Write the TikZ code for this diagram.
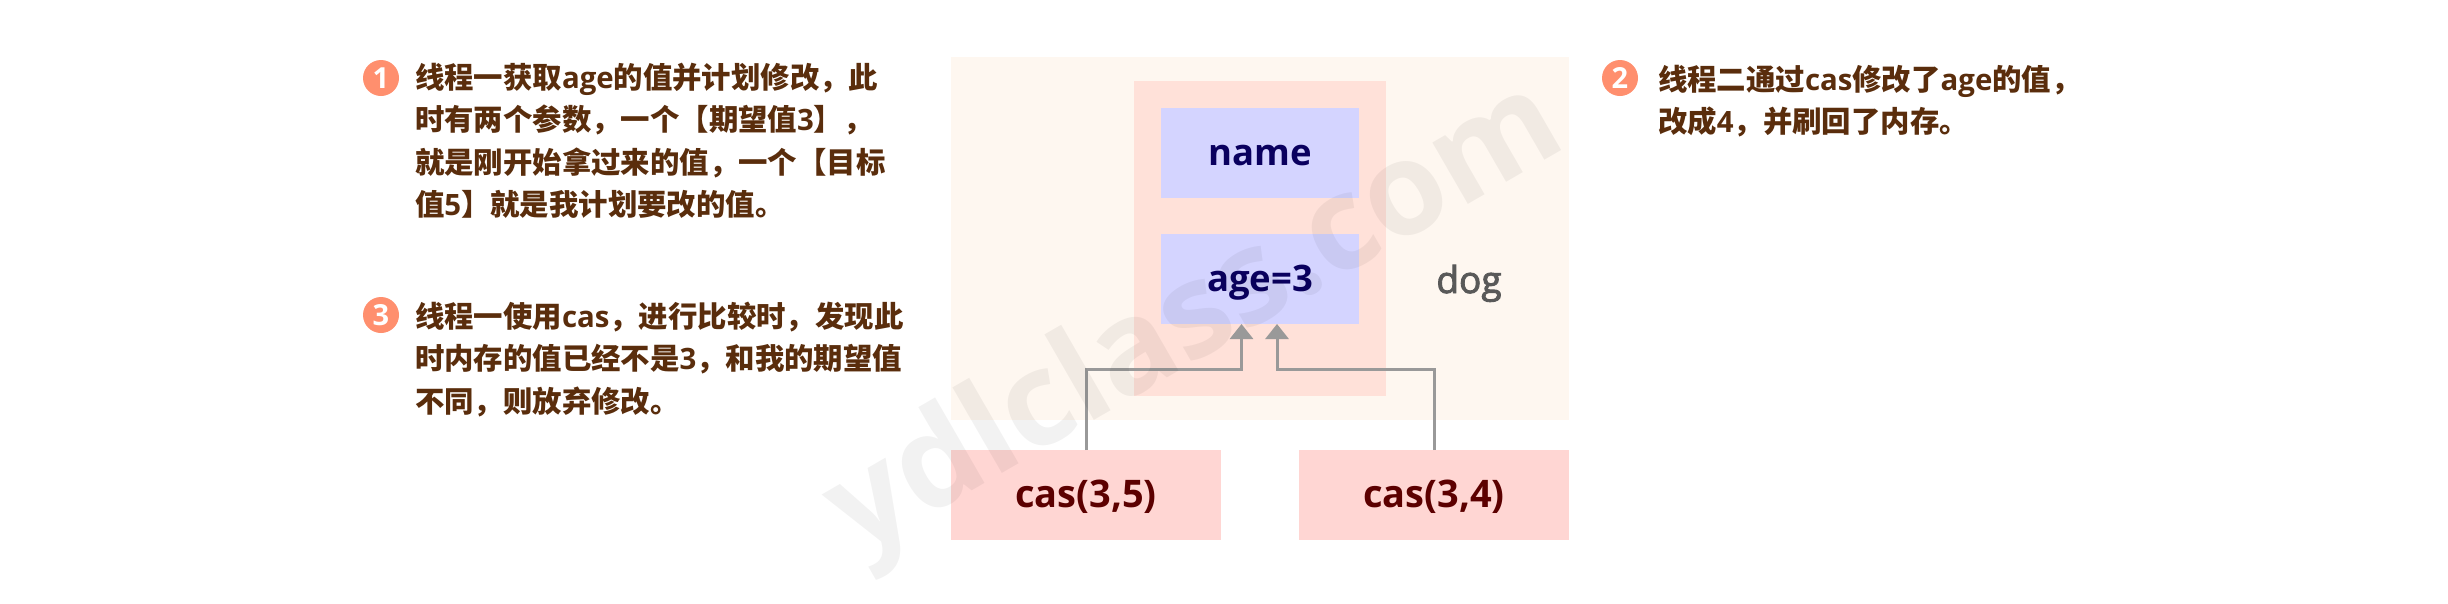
\documentclass[tikz,border=0pt]{standalone}
\usepackage{fontspec}
\usetikzlibrary{arrows.meta}
\setmainfont{Open Sans}
\newfontfamily\cjk{Noto Sans CJK SC}
\newcommand{\Z}[1]{{\cjk\bfseries #1}}
\newcommand{\Heavier}[1]{\special{pdf:code q 2 Tr 0.9 w}#1\special{pdf:code Q}}
\definecolor{txtbrown}{HTML}{5A2D0C}
\definecolor{outerbg}{HTML}{FEF7F0}
\definecolor{innerbg}{HTML}{FFE1D9}
\definecolor{fieldbg}{HTML}{D4D4FF}
\definecolor{fieldtx}{HTML}{0A005F}
\definecolor{casbg}{HTML}{FFD6D3}
\definecolor{castx}{HTML}{5C0000}
\definecolor{numbg}{HTML}{FF8F6E}
\definecolor{arrgray}{HTML}{999999}
\tikzset{
  box/.style={inner sep=0pt,outer sep=0pt,draw=none,anchor=center,text height=30pt,text depth=6pt},
  field/.style={box,fill=fieldbg,text=fieldtx,minimum width=198pt,minimum height=90pt,font=\fontsize{36.5}{40}\selectfont\bfseries},
  casbox/.style={box,fill=casbg,text=castx,minimum width=270pt,minimum height=90pt,font=\fontsize{38}{42}\selectfont\bfseries},
  num/.style={circle,fill=numbg,text=white,inner sep=0pt,minimum size=36pt,font=\fontsize{29}{30}\selectfont\bfseries},
  note/.style={inner sep=0pt,outer sep=0pt,anchor=north west,align=left,text=txtbrown,font=\fontsize{29.4}{42.5}\selectfont\bfseries},
  conn/.style={draw=arrgray,line width=3pt,-{Triangle[length=15pt,width=23pt,color=arrgray]}}
}
\begin{document}
\begin{tikzpicture}[x=1pt,y=-1pt]
\useasboundingbox (0,0) rectangle (2448,603);
\fill[white] (0,0) rectangle (2448,603);
\node[box,fill=outerbg,minimum width=618pt,minimum height=363pt] (outer) at (1260,238.5) {};
\node[box,fill=innerbg,minimum width=252pt,minimum height=315pt] (inner) at (1260,238.5) {};
\node[field] (name) at (1260,153) {name};
\node[field] (age) at (1260,279) {age=3};
\node[box,text=black!65,font=\fontsize{37}{40}\selectfont] (dog) at (1469,281) {\Heavier{dog}};
\node[casbox] (cas1) at (1086,495) {cas(3,5)};
\node[casbox] (cas2) at (1434,495) {cas(3,4)};
\coordinate (t1) at (1241.5,324);
\coordinate (t2) at (1277,324);
\coordinate (mid) at (1260,369);
\draw[conn] (cas1.north) -- (cas1.north |- mid) -- (t1 |- mid) -- (t1);
\draw[conn] (cas2.north) -- (cas2.north |- mid) -- (t2 |- mid) -- (t2);
\node[num] (n1) at (381,78) {1};
\node[num] (n2) at (1620,78) {2};
\node[num] (n3) at (381,315) {3};
\node[note] (t1a) at (415,63) {\Z{线程一获取}age\Z{的值并计划修改，此}\\\Z{时有两个参数，一个【期望值}3\Z{】，}\\\Z{就是刚开始拿过来的值，一个【目标}\\\Z{值}5\Z{】就是我计划要改的值。}};
\node[note] (t3a) at (415,302) {\Z{线程一使用}cas\Z{，进行比较时，发现此}\\\Z{时内存的值已经不是}3\Z{，和我的期望值}\\\Z{不同，则放弃修改。}};
\node[note] (t2a) at (1658,65) {\Z{线程二通过}cas\Z{修改了}age\Z{的值，}\\\Z{改成}4\Z{，并刷回了内存。}};
\node[inner sep=0pt,anchor=base,rotate=30,text=black,text opacity=0.05,font=\fontsize{130}{133}\selectfont\bfseries] (wm) at (1214,351) {ydlclass.com};
\end{tikzpicture}
\end{document}
